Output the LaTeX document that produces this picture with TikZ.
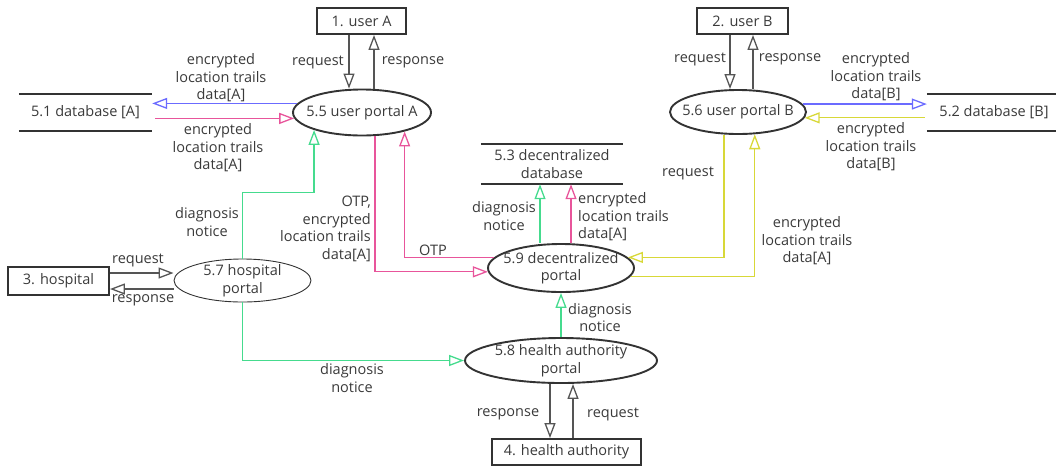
\documentclass[tikz,border=0pt]{standalone}
\usepackage{fontspec}
\setmainfont{Open Sans}
\usetikzlibrary{arrows.meta,shapes.geometric,calc}
\definecolor{txt}{HTML}{3A3A3A}
\definecolor{cblue}{HTML}{6B6BFF}
\definecolor{cpink}{HTML}{E8559B}
\definecolor{cgreen}{HTML}{45DB8E}
\definecolor{cyel}{HTML}{D8D838}
\definecolor{cgray}{HTML}{555555}
\definecolor{cline}{HTML}{333333}
\begin{document}
\begin{tikzpicture}[x=1pt,y=-1pt,
  font=\fontsize{14.5}{17.5}\selectfont, text=txt,
  lbl/.style={align=center, inner sep=0pt, text=txt},
  box/.style={draw=cline, line width=1.9pt, minimum height=26pt, inner sep=0pt},
  proc/.style={ellipse, draw=cline, line width=1.9pt, inner sep=0pt},
  db/.style={align=center, inner sep=0pt},
  dbline/.style={draw=cline, line width=1.9pt},
  flow/.style={line width=1.3pt, -{Triangle[open,length=15pt,width=11pt]}},
  gflow/.style={flow, draw=cgray},
  bflow/.style={flow, draw=cblue},
  pflow/.style={flow, draw=cpink},
  gnflow/.style={flow, draw=cgreen},
  yflow/.style={flow, draw=cyel}]
\useasboundingbox (0,0) rectangle (1056,467);

% external entities
\node[box, minimum width=89pt] (uA) at (361.5,21) {1. user A};
\node[box, minimum width=91pt] (uB) at (742.5,21) {2. user B};
\node[box, minimum width=101pt, minimum height=28pt] (hosp) at (58.5,281) {3. hospital};
\node[box, minimum width=149pt] (ha) at (566.5,452) {4. health authority};

% processes
\node[proc, minimum width=138pt, minimum height=46pt, label={[lbl]center:5.5 user portal A}] (p55) at (362,112.5) {};
\node[proc, minimum width=136pt, minimum height=44pt, label={[lbl]center:5.6 user portal B}] (p56) at (738,112) {};
\node[proc, line width=0.9pt, minimum width=137pt, minimum height=43pt, label={[lbl]center:{5.7 hospital\\portal}}] (p57) at (242.5,280.5) {};
\node[proc, minimum width=192pt, minimum height=45pt, label={[lbl]center:{5.8 health authority\\portal}}] (p58) at (561,360.5) {};
\node[proc, minimum width=146pt, minimum height=48pt, label={[lbl]center:{5.9 decentralized\\portal}}] (p59) at (561,268) {};

% data stores
\node[db, minimum width=133pt, minimum height=37pt] (db1) at (85.5,112.5) {5.1 database [A]};
\node[db, minimum width=134pt, minimum height=37pt] (db2) at (994,112.5) {5.2 database [B]};
\node[db, minimum width=142pt, minimum height=40pt] (db3) at (552,164) {5.3 decentralized\\database};
\draw[dbline] (db1.north west) -- (db1.north east) (db1.south west) -- (db1.south east);
\draw[dbline] (db2.north west) -- (db2.north east) (db2.south west) -- (db2.south east);
\draw[dbline] (db3.north west) -- (db3.north east) (db3.south west) -- (db3.south east);

% gray flows
\draw[gflow] ([xshift=-12.5pt]uA.south) -- ([xshift=-13pt]p55.north);
\draw[gflow] ([xshift=12pt]p55.north) -- ([xshift=12.5pt]uA.south);
\draw[gflow] ([xshift=-12.5pt]uB.south) -- ([xshift=-8pt]p56.north);
\draw[gflow] ([xshift=15pt]p56.north) -- ([xshift=10.5pt]uB.south);
\draw[gflow] ([yshift=8pt]hosp.east) -- ([yshift=7.5pt]p57.west);
\draw[gflow] ([yshift=-8.5pt]p57.west) -- ([yshift=-8pt]hosp.east);
\draw[gflow] ([xshift=-11pt]p58.south) -- ([xshift=-16.5pt]ha.north);
\draw[gflow] ([xshift=6.5pt]ha.north) -- ([xshift=12pt]p58.south);

% blue flows
\draw[bflow] (p55.172) -- (p55.172 -| db1.east);
\draw[bflow] (p56.7) -- (p56.7 -| db2.west);

% pink flows
\draw[pflow] ($(db1.east |- p55.185)+(3,0)$) -- (p55.185);
\draw[pflow] ([xshift=13pt]p55.south) |- (p59.183);
\draw[pflow] (p59.171) -| (p55.336);
\draw[pflow] ([xshift=10pt]p59.north) -- ([xshift=19pt]db3.south);

% green flows
\draw[gnflow] (p57.north) -- ++(0,-66) -| (p55.200);
\draw[gnflow] (p57.south) |- (p58.west);
\draw[gnflow] (p58.north) -- (p59.south);
\draw[gnflow] ([xshift=-21pt]p59.north) -- ([xshift=-12pt]db3.south);

% yellow flows
\draw[yflow] ([xshift=-14pt]p56.south) |- (p59.9);
\draw[yflow] ($(db2.west |- p56.355)+(-2,0)$) -- (p56.355);
\draw[yflow] (p59.353) -| (p56.307);

% labels
\node[lbl] (t1) at (318,62) {request};
\node[lbl] (t2) at (413,62) {response};
\node[lbl] (t3) at (700,59) {request};
\node[lbl] (t4) at (790,59) {response};
\node[lbl] (t5) at (221,78) {encrypted\\location trails\\data[A]};
\node[lbl] (t6) at (218,148) {encrypted\\location trails\\data[A]};
\node[lbl] (t7) at (876,77) {encrypted\\location trails\\data[B]};
\node[lbl] (t8) at (871,147) {encrypted\\location trails\\data[B]};
\node[lbl] (t9) at (207,222) {diagnosis\\notice};
\node[lbl, align=right, anchor=east] (t10) at (371,229) {OTP,\\encrypted\\location trails\\data[A]};
\node[lbl] (t11) at (433,250) {OTP};
\node[lbl] (t12) at (138,260) {request};
\node[lbl] (t13) at (143,300) {response};
\node[lbl] (t14) at (352,378) {diagnosis\\notice};
\node[lbl] (t15) at (504,216) {diagnosis\\notice};
\node[lbl, align=left, anchor=west] (t16) at (578,217) {encrypted\\location trails\\data[A]};
\node[lbl] (t17) at (688,173) {request};
\node[lbl] (t18) at (807,241) {encrypted\\location trails\\data[A]};
\node[lbl] (t19) at (600,317.5) {diagnosis\\notice};
\node[lbl] (t20) at (508,414) {response};
\node[lbl] (t21) at (613,414) {request};
\end{tikzpicture}
\end{document}
